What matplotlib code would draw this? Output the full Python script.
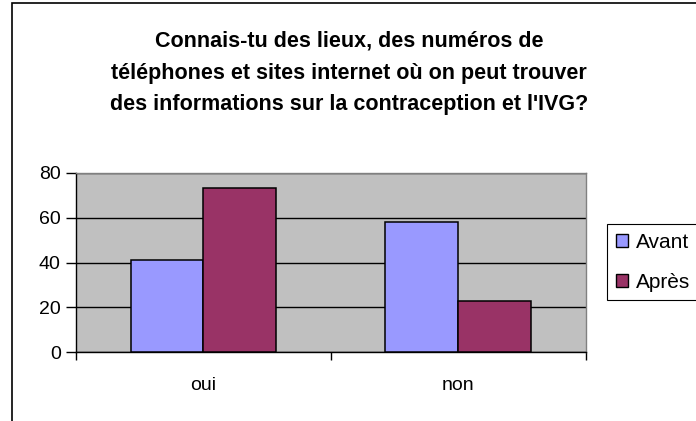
import numpy as np
import matplotlib
matplotlib.use('Agg')
import matplotlib.pyplot as plt
from matplotlib.patches import Rectangle

plt.rcParams['font.family'] = ['Liberation Sans', 'DejaVu Sans']

categories = ['oui', 'non']
avant = [41, 58]
apres = [73, 23]
series_names = ['Avant', 'Après']
colors = ['#9999FF', '#993366']
title = "Connais-tu des lieux, des numéros de\ntéléphones et sites internet où on peut trouver\ndes informations sur la contraception et l'IVG?"

W, H = 696, 421
fig = plt.figure(figsize=(W / 100, H / 100), dpi=100)

# chart border (extends past the bottom/right of the picture)
fig.patches.append(Rectangle((12 / W, -0.1), 1.2, (H - 2.5) / H + 0.1,
                             transform=fig.transFigure, fill=False,
                             edgecolor='black', lw=1.2))

ax = fig.add_axes([76 / W, (H - 352.3) / H, (585.7 - 76) / W, (352.3 - 172.7) / H])
ax.set_facecolor('#C0C0C0')

x = np.arange(len(categories))
bw = 1 / 3.5
ax.bar(x - bw / 2, avant, bw, color=colors[0], edgecolor='black', lw=1.1, label=series_names[0], zorder=3)
ax.bar(x + bw / 2, apres, bw, color=colors[1], edgecolor='black', lw=1.1, label=series_names[1], zorder=3)

ax.set_xlim(-0.5, len(categories) - 0.5)
ax.set_ylim(0, 80)
ax.set_yticks([0, 20, 40, 60, 80])
ax.yaxis.grid(True, color='black', lw=1.0, zorder=1)
ax.set_axisbelow(True)

ax.set_xticks(np.arange(len(categories) + 1) - 0.5)
ax.set_xticklabels([])
ax.set_xticks(x, minor=True)
ax.set_xticklabels(categories, minor=True, fontsize=14)
ax.tick_params(axis='x', which='minor', length=0, pad=18)
ax.tick_params(axis='x', which='major', length=6, width=1, direction='out')
ax.tick_params(axis='y', length=7, width=1, labelsize=14, pad=4)

for s in ['top', 'right']:
    ax.spines[s].set_color('#808080')
    ax.spines[s].set_linewidth(1.0)
for s in ['left', 'bottom']:
    ax.spines[s].set_color('black')
    ax.spines[s].set_linewidth(1.0)

fig.text(349 / W, 1 - 73 / H, title, ha='center', va='center', fontsize=15.5,
         fontweight='bold', linespacing=1.68)

leg = fig.legend(loc='upper left', bbox_to_anchor=(607 / W, 1 - 224 / H), fontsize=15,
                 frameon=True, fancybox=False, edgecolor='black', framealpha=1,
                 handlelength=0.6, handleheight=0.6, handletextpad=0.4,
                 borderpad=0.41, labelspacing=1.02, borderaxespad=0)
leg.get_frame().set_linewidth(0.8)
for h in leg.legend_handles:
    h.set_linewidth(1.0)

fig.savefig('out.png', dpi=100)
